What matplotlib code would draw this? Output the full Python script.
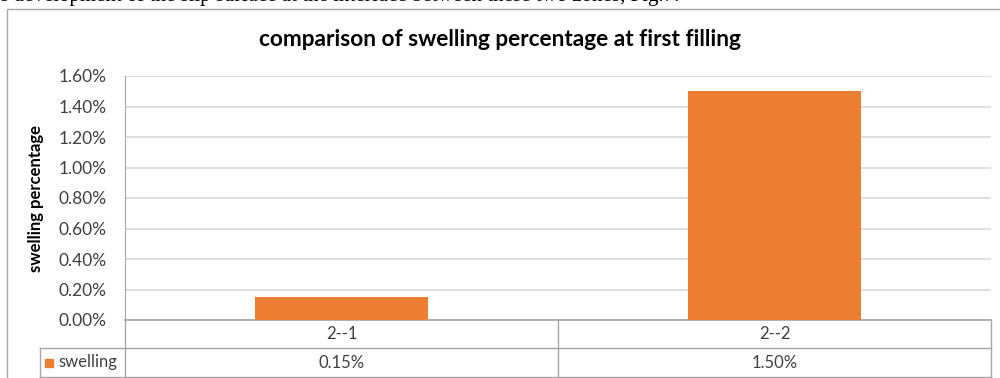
import matplotlib
matplotlib.use("Agg")
import matplotlib.pyplot as plt
from matplotlib.patches import Rectangle
from matplotlib.ticker import FuncFormatter

categories = ["2--1", "2--2"]
swelling = [0.15, 1.50]  # percent
series_name = "swelling"
title = "comparison of swelling percentage at first filling"
ylabel = "swelling percentage"
yticks = [0.0, 0.2, 0.4, 0.6, 0.8, 1.0, 1.2, 1.4, 1.6]
doc_text = "e development of the slip surface at the interface between these two zones, Fig.7."

W, H = 1000, 378
plt.rcParams['font.family'] = ['Lato', 'DejaVu Sans']
fig = plt.figure(figsize=(W / 100, H / 100), dpi=100)

BORDER = "#A6A6A6"
GRID = "#D9D9D9"
BAR = "#ED7D31"
TXT = "#404040"

# outer chart frame (extends past right/bottom edges)
fig.patches.append(Rectangle((7 / W, -0.1), 1.2, (H - 9) / H + 0.1, transform=fig.transFigure,
                             fill=False, edgecolor=BORDER, linewidth=1.0))
# document text cut at the top
fig.text(-1 / W, 1 - 1.2 / H, doc_text, family='Liberation Serif', fontsize=15,
         ha='left', va='baseline', color='black')

# plot area
L, R, T, B = 125, 991, 76, 320
ax = fig.add_axes([L / W, 1 - B / H, (R - L) / W, (B - T) / H])
x = list(range(len(categories)))
ax.bar(x, swelling, width=0.4, color=BAR, zorder=3)
ax.set_xlim(-0.5, len(categories) - 0.5)
ax.set_ylim(0, 1.6)
ax.set_yticks(yticks)
ax.yaxis.set_major_formatter(FuncFormatter(lambda v, p: f"{v:.2f}%"))
ax.tick_params(axis='y', length=0, pad=13, labelsize=12.5, labelcolor=TXT)
ax.set_xticks([])
ax.grid(axis='y', color=GRID, linewidth=1.2, zorder=0)
for s in ['top', 'right']:
    ax.spines[s].set_visible(False)
ax.spines['left'].set_color(BORDER)
ax.spines['bottom'].set_color(BORDER)
ax.spines['bottom'].set_linewidth(1.2)
ax.set_ylabel(ylabel, fontsize=12, fontweight='bold', color='black', labelpad=0)
ax.yaxis.set_label_coords((44 - L) / (R - L), 0.5)

fig.text(0.5, 1 - 40 / H, title, fontsize=16.3, fontweight='bold', ha='center', va='center',
         color='black')

# data table below the axis
ph = B - T
row = 28 / ph
row2 = 29 / ph
lx = (40 - L) / (R - L)
lw = 1.0
tr = ax.transAxes
def hline(y, x0, x1):
    ax.plot([x0, x1], [y, y], transform=tr, color=BORDER, lw=lw, clip_on=False)
def vline(xx, y0, y1):
    ax.plot([xx, xx], [y0, y1], transform=tr, color=BORDER, lw=lw, clip_on=False)

hline(-row, lx, 1)
hline(-row - row2 + 0.5 / ph, lx, 1)
vline(1, -row - row2, 0)
vline(0, -row - row2, 0)
vline(lx, -row - row2, -row)
n = len(categories)
for i in range(1, n):
    vline(i / n, -row - row2, 0)
for i, (c, v) in enumerate(zip(categories, swelling)):
    xc = (i + 0.5) / n
    ax.text(xc, -row / 2, c, transform=tr, ha='center', va='center', fontsize=12, color=TXT)
    ax.text(xc, -row - row2 / 2, f"{v:.2f}%", transform=tr, ha='center', va='center',
            fontsize=12, color=TXT)
ax.add_patch(Rectangle(((45 - L) / (R - L), -row - row2 / 2 - 4 / ph), 8 / (R - L), 8 / ph,
                       transform=tr, color=BAR, clip_on=False))
ax.text((58 - L) / (R - L), -row - row2 / 2, series_name, transform=tr, ha='left', va='center',
        fontsize=12, color=TXT)

fig.savefig("out.png", dpi=100)
